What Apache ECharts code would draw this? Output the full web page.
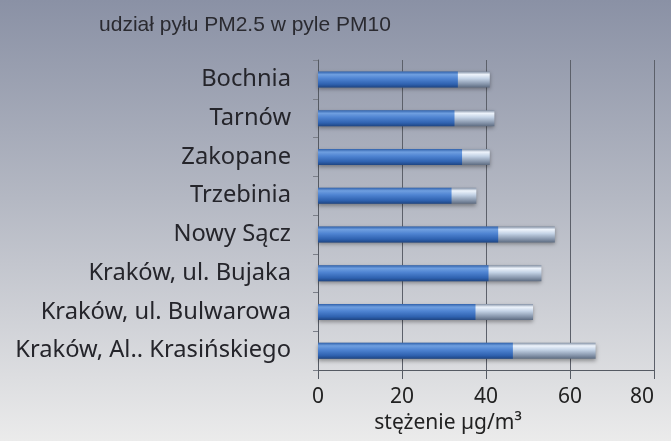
<!DOCTYPE html>
<html>
<head>
<meta charset="utf-8">
<script src="https://cdn.jsdelivr.net/npm/echarts@6/dist/echarts.min.js"></script>
<style>
html,body{margin:0;padding:0;}
#c{width:671px;height:441px;}
</style>
</head>
<body>
<div id="c"></div>
<script>
var categories = ["Bochnia","Tarnów","Zakopane","Trzebinia","Nowy Sącz","Kraków, ul. Bujaka","Kraków, ul. Bulwarowa","Kraków, Al.. Krasińskiego"];
var pm25 = [33.3, 32.5, 34.3, 31.8, 42.9, 40.6, 37.5, 46.4];
var pm10 = [40.9, 42.0, 40.9, 37.7, 56.4, 53.2, 51.2, 66.1];
var xTicks = [0, 20, 40, 60, 80];

var chart = echarts.init(document.getElementById('c'), null, {renderer:'canvas'});
var blueGrad = new echarts.graphic.LinearGradient(0,0,0,1,[
  {offset:0,color:'#2d5ea8'},
  {offset:0.2,color:'#6f9fe0'},
  {offset:0.45,color:'#4f84d2'},
  {offset:0.8,color:'#2f62b0'},
  {offset:1,color:'#1f4684'}
]);
var lightGrad = new echarts.graphic.LinearGradient(0,0,0,1,[
  {offset:0,color:'#7d8ba0'},
  {offset:0.2,color:'#eef4fc'},
  {offset:0.45,color:'#c4d3e6'},
  {offset:0.8,color:'#8594aa'},
  {offset:1,color:'#5f6d82'}
]);
chart.setOption({
  backgroundColor: new echarts.graphic.LinearGradient(0,0,0,1,[
    {offset:0,color:'#8a91a5'},
    {offset:0.45,color:'#b4b8c3'},
    {offset:1,color:'#ebebeb'}
  ]),
  animation:false,
  title:{
    text:'udział pyłu PM2.5 w pyle PM10',
    left:240, top:10, textAlign:'center',
    textStyle:{fontFamily:'Liberation Sans',fontSize:21,fontWeight:'normal',color:'#2a2a30'}
  },
  grid:{left:318,right:17,top:60,bottom:71,containLabel:false},
  xAxis:{
    type:'value', min:0, max:80, interval:20,
    axisLine:{show:true,lineStyle:{color:'#555a63',width:1}},
    axisTick:{show:true,length:9,lineStyle:{color:'#555a63'}},
    splitLine:{show:true,lineStyle:{color:'#5c606a',width:1}},
    axisLabel:{fontFamily:'Noto Sans',fontSize:21,color:'#222',margin:17,alignMaxLabel:'right',
      formatter:function(v){return xTicks.indexOf(v)>=0?String(v):'';}},
    name:'stężenie µg/m³', nameLocation:'middle', nameGap:37,
    nameTextStyle:{fontFamily:'Noto Sans',fontSize:21,color:'#222',padding:[0,76,0,0]}
  },
  yAxis:{
    type:'category', data:categories, inverse:true,
    axisLine:{show:true,lineStyle:{color:'#555a63'}},
    axisTick:{show:true,length:5,lineStyle:{color:'#7a7e88'}},
    axisLabel:{fontFamily:'Noto Sans',fontSize:23.7,color:'#25252b',margin:27}
  },
  series:[
    {name:'PM10',type:'bar',data:pm10,barWidth:16,barGap:'-100%',
     itemStyle:{color:lightGrad,shadowColor:'rgba(0,0,0,0.35)',shadowBlur:4,shadowOffsetY:2}},
    {name:'PM2.5',type:'bar',data:pm25,barWidth:16,
     itemStyle:{color:blueGrad}}
  ]
});
</script>
</body>
</html>
